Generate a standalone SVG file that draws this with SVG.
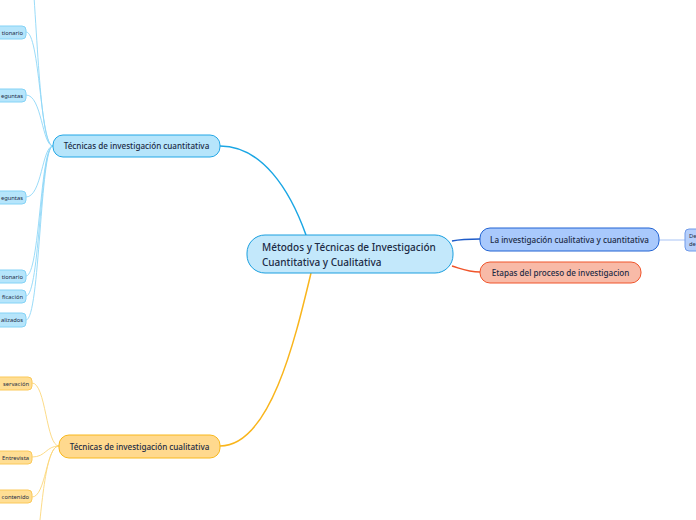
<svg xmlns="http://www.w3.org/2000/svg" width="696" height="520" viewBox="0 0 696 520">
<style>
  text { font-family: "Noto Sans", "Open Sans", sans-serif; fill: #1c2b45; }
  .main { font-size: 10px; font-weight: 500; }
  .sub { font-size: 8.1px; font-weight: 500; }
  .leaf { font-size: 5.8px; }
  .c-blue rect { fill: #b6e5fb; stroke: #22a7e6; stroke-width: 1; }
  .c-blue-leaf rect { fill: #b6e5fb; stroke: #84d3f6; stroke-width: 1; }
  .c-yel rect { fill: #ffd98e; stroke: #f8b81c; stroke-width: 1; }
  .c-yel-leaf rect { fill: #ffde94; stroke: #fbc95a; stroke-width: 1; }
  .conn path { fill: none; }
  .l-blue { stroke: #1aa6e4; stroke-width: 1.5; }
  .l-yel { stroke: #f9b51c; stroke-width: 1.5; }
  .l-navy { stroke: #1f5cc9; stroke-width: 1.5; }
  .l-red { stroke: #f0542a; stroke-width: 1.5; }
  .l-lblue { stroke: #8fd7f7; stroke-width: 0.9; }
  .l-lyel { stroke: #fcd77a; stroke-width: 0.9; }
  .l-pblue { stroke: #a9c4f5; stroke-width: 1; }
</style>
<rect width="696" height="520" fill="#ffffff"/>
<g id="connectors" class="conn">
  <path class="l-blue" d="M 306 235 C 290 190, 262 146, 220 146"/>
  <path class="l-yel" d="M 311 273 C 295 340, 270 446, 220 446"/>
  <path class="l-navy" d="M 452 241 C 462 239, 468 239, 480 239"/>
  <path class="l-red" d="M 452 266 C 462 269, 468 272, 480 272"/>
  <path class="l-pblue" d="M 659 240 L 685 240"/>
  <path class="l-lblue" d="M 53 146 C 40 146, 38 40, 30 -60"/>
  <path class="l-lblue" d="M 53 146 C 40 146, 40 32, 26 32"/>
  <path class="l-lblue" d="M 53 146 C 42 146, 42 95, 26 95"/>
  <path class="l-lblue" d="M 53 146 C 42 146, 42 197, 26 197"/>
  <path class="l-lblue" d="M 53 146 C 40 146, 40 276, 26 276"/>
  <path class="l-lblue" d="M 53 146 C 40 146, 40 296, 26 296"/>
  <path class="l-lblue" d="M 53 146 C 40 146, 40 320, 26 320"/>
  <path class="l-lyel" d="M 59 446 C 46 446, 46 383, 32 383"/>
  <path class="l-lyel" d="M 59 446 C 46 446, 46 457, 32 457"/>
  <path class="l-lyel" d="M 59 446 C 46 446, 46 497, 32 497"/>
  <path class="l-lyel" d="M 59 446 C 46 446, 42 500, 36 560"/>
</g>
<g id="central" class="c-blue">
  <rect x="247" y="235" width="206" height="38" rx="18" style="fill:#c3e8fb;stroke:#1a9fdf"/>
  <text class="main" x="262" y="251">Métodos y Técnicas de Investigación</text>
  <text class="main" x="262" y="266">Cuantitativa y Cualitativa</text>
</g>
<g id="cuantitativa" class="c-blue">
  <rect x="53" y="135" width="167" height="22" rx="10"/>
  <text class="sub" x="136.5" y="149" text-anchor="middle">Técnicas de investigación cuantitativa</text>
</g>
<g id="cualitativa" class="c-yel">
  <rect x="59" y="435" width="161" height="23" rx="10"/>
  <text class="sub" x="139.5" y="449.5" text-anchor="middle">Técnicas de investigación cualitativa</text>
</g>
<g id="la-investigacion">
  <rect x="480" y="228" width="179" height="23" rx="10" fill="#a9c9fc" stroke="#2163d3" stroke-width="1"/>
  <text class="sub" x="569.5" y="242.5" text-anchor="middle">La investigación cualitativa y cuantitativa</text>
</g>
<g id="etapas">
  <rect x="480" y="262" width="161" height="21" rx="10" fill="#f8baa7" stroke="#f0542a" stroke-width="1"/>
  <text class="sub" x="560.5" y="275.5" text-anchor="middle">Etapas del proceso de investigacion</text>
</g>
<g id="de-node">
  <rect x="685" y="229" width="30" height="22" rx="4" fill="#b6cffb" stroke="#6f9ae9" stroke-width="1"/>
  <text class="leaf" x="689" y="238">De</text>
  <text class="leaf" x="689" y="246">de</text>
</g>
<g id="q1" class="c-blue-leaf">
  <rect x="-40" y="26" width="66" height="13" rx="4"/>
  <text class="leaf" x="23" y="34.5" text-anchor="end">tionario</text>
</g>
<g id="q2" class="c-blue-leaf">
  <rect x="-40" y="89" width="66" height="13" rx="4"/>
  <text class="leaf" x="23" y="97.5" text-anchor="end">eguntas</text>
</g>
<g id="q3" class="c-blue-leaf">
  <rect x="-40" y="191" width="66" height="13" rx="4"/>
  <text class="leaf" x="23" y="199.5" text-anchor="end">eguntas</text>
</g>
<g id="q4" class="c-blue-leaf">
  <rect x="-40" y="270" width="66" height="13" rx="4"/>
  <text class="leaf" x="23" y="278.5" text-anchor="end">tionario</text>
</g>
<g id="q5" class="c-blue-leaf">
  <rect x="-40" y="290" width="66" height="13" rx="4"/>
  <text class="leaf" x="23" y="298.5" text-anchor="end">ficación</text>
</g>
<g id="q6" class="c-blue-leaf">
  <rect x="-40" y="313" width="66" height="14" rx="4"/>
  <text class="leaf" x="23" y="322" text-anchor="end">alizados</text>
</g>
<g id="c1" class="c-yel-leaf">
  <rect x="-40" y="377" width="72" height="13" rx="4"/>
  <text class="leaf" x="29" y="385.5" text-anchor="end">servación</text>
</g>
<g id="c2" class="c-yel-leaf">
  <rect x="-40" y="451" width="72" height="13" rx="4"/>
  <text class="leaf" x="29" y="459.5" text-anchor="end">Entrevista</text>
</g>
<g id="c3" class="c-yel-leaf">
  <rect x="-40" y="490" width="72" height="13" rx="4"/>
  <text class="leaf" x="29" y="498.5" text-anchor="end">contenido</text>
</g>
</svg>
